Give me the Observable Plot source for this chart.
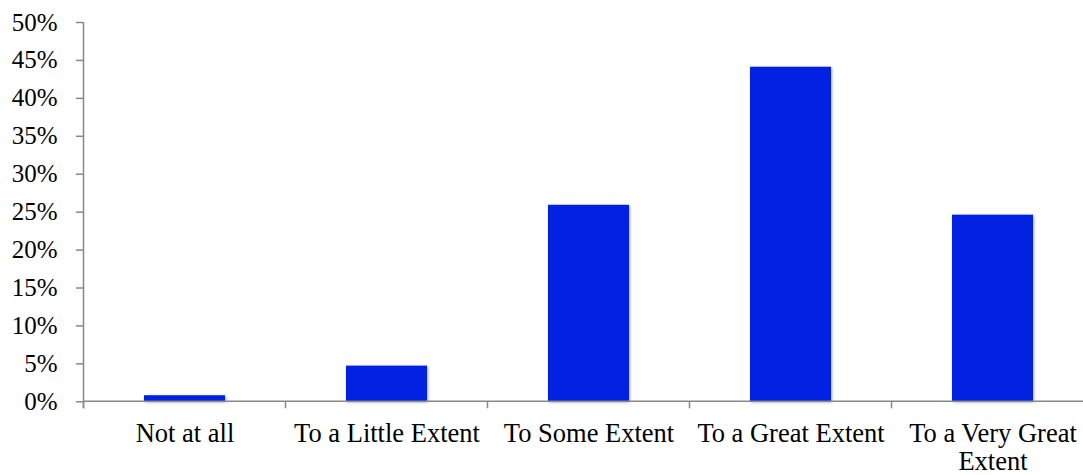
<!DOCTYPE html>
<html>
<head>
<meta charset="utf-8">
<script src="https://cdn.jsdelivr.net/npm/d3@7"></script>
<script src="https://cdn.jsdelivr.net/npm/@observablehq/plot@0.6"></script>
<style>
  html, body { margin: 0; padding: 0; background: #fff; overflow: hidden; }
  #chart svg { display: block; }
  #chart svg g[aria-label="bar"] rect { filter: drop-shadow(1.5px 1.5px 1.5px rgba(0, 0, 0, 0.35)); }
</style>
</head>
<body>
<div id="chart"></div>
<script>
// Survey responses: share of respondents per answer (percent)
const categories = ["Not at all", "To a Little Extent", "To Some Extent", "To a Great Extent", "To a Very Great Extent"];
const tickLabels = ["Not at all", "To a Little Extent", "To Some Extent", "To a Great Extent", "To a Very Great\nExtent"];
const shares = [0.8, 4.7, 25.9, 44.1, 24.6];
const yTicks = [0, 5, 10, 15, 20, 25, 30, 35, 40, 45, 50];

const data = categories.map((category, i) => ({category, share: shares[i]}));
const labelOf = new Map(categories.map((c, i) => [c, tickLabels[i]]));

const serif = "Liberation Serif, Times New Roman, serif";
const axisColor = "#888888";
const tickLen = 7;

// Axis lines plus x ticks placed on the boundaries between categories
function axisFrame(index, scales) {
  const x = scales.x, y = scales.y;
  const step = x.step(), bw = x.bandwidth();
  const edges = categories.map(c => x(c) + bw / 2 - step / 2);
  edges.push(x(categories[categories.length - 1]) + bw / 2 + step / 2);
  const y0 = y(0), yTop = y(yTicks[yTicks.length - 1]);
  const g = d3.create("svg:g")
    .attr("stroke", axisColor)
    .attr("stroke-width", 1.5)
    .attr("fill", "none");
  g.append("line").attr("x1", edges[0]).attr("x2", edges[edges.length - 1]).attr("y1", y0).attr("y2", y0);
  g.append("line").attr("x1", edges[0]).attr("x2", edges[0]).attr("y1", yTop).attr("y2", y0 + tickLen);
  for (const e of edges) {
    g.append("line").attr("x1", e).attr("x2", e).attr("y1", y0).attr("y2", y0 + tickLen);
  }
  return g.node();
}

const chart = Plot.plot({
  width: 1083,
  height: 475,
  marginLeft: 83,
  marginRight: -10,
  marginTop: 22,
  marginBottom: 73.7,
  style: {background: "#fff", color: "#000"},
  x: {domain: categories, paddingInner: 0.6, paddingOuter: 0.3, label: null},
  y: {domain: [0, 50], label: null},
  marks: [
    Plot.barY(data, {x: "category", y: "share", fill: "#0020E2"}),
    Plot.axisY({
      ticks: yTicks,
      tickFormat: d => d + "%",
      tickSize: tickLen,
      tickPadding: 19,
      stroke: axisColor,
      strokeWidth: 1.5,
      fill: "#000",
      fontSize: 25,
      fontFamily: serif,
      label: null
    }),
    Plot.axisX({
      tickSize: 0,
      tickPadding: 20,
      tickFormat: d => labelOf.get(d),
      fill: "#000",
      fontSize: 26.5,
      fontFamily: serif,
      lineHeight: 1.06,
      label: null
    }),
    axisFrame
  ]
});

document.getElementById("chart").appendChild(chart);
</script>
</body>
</html>
